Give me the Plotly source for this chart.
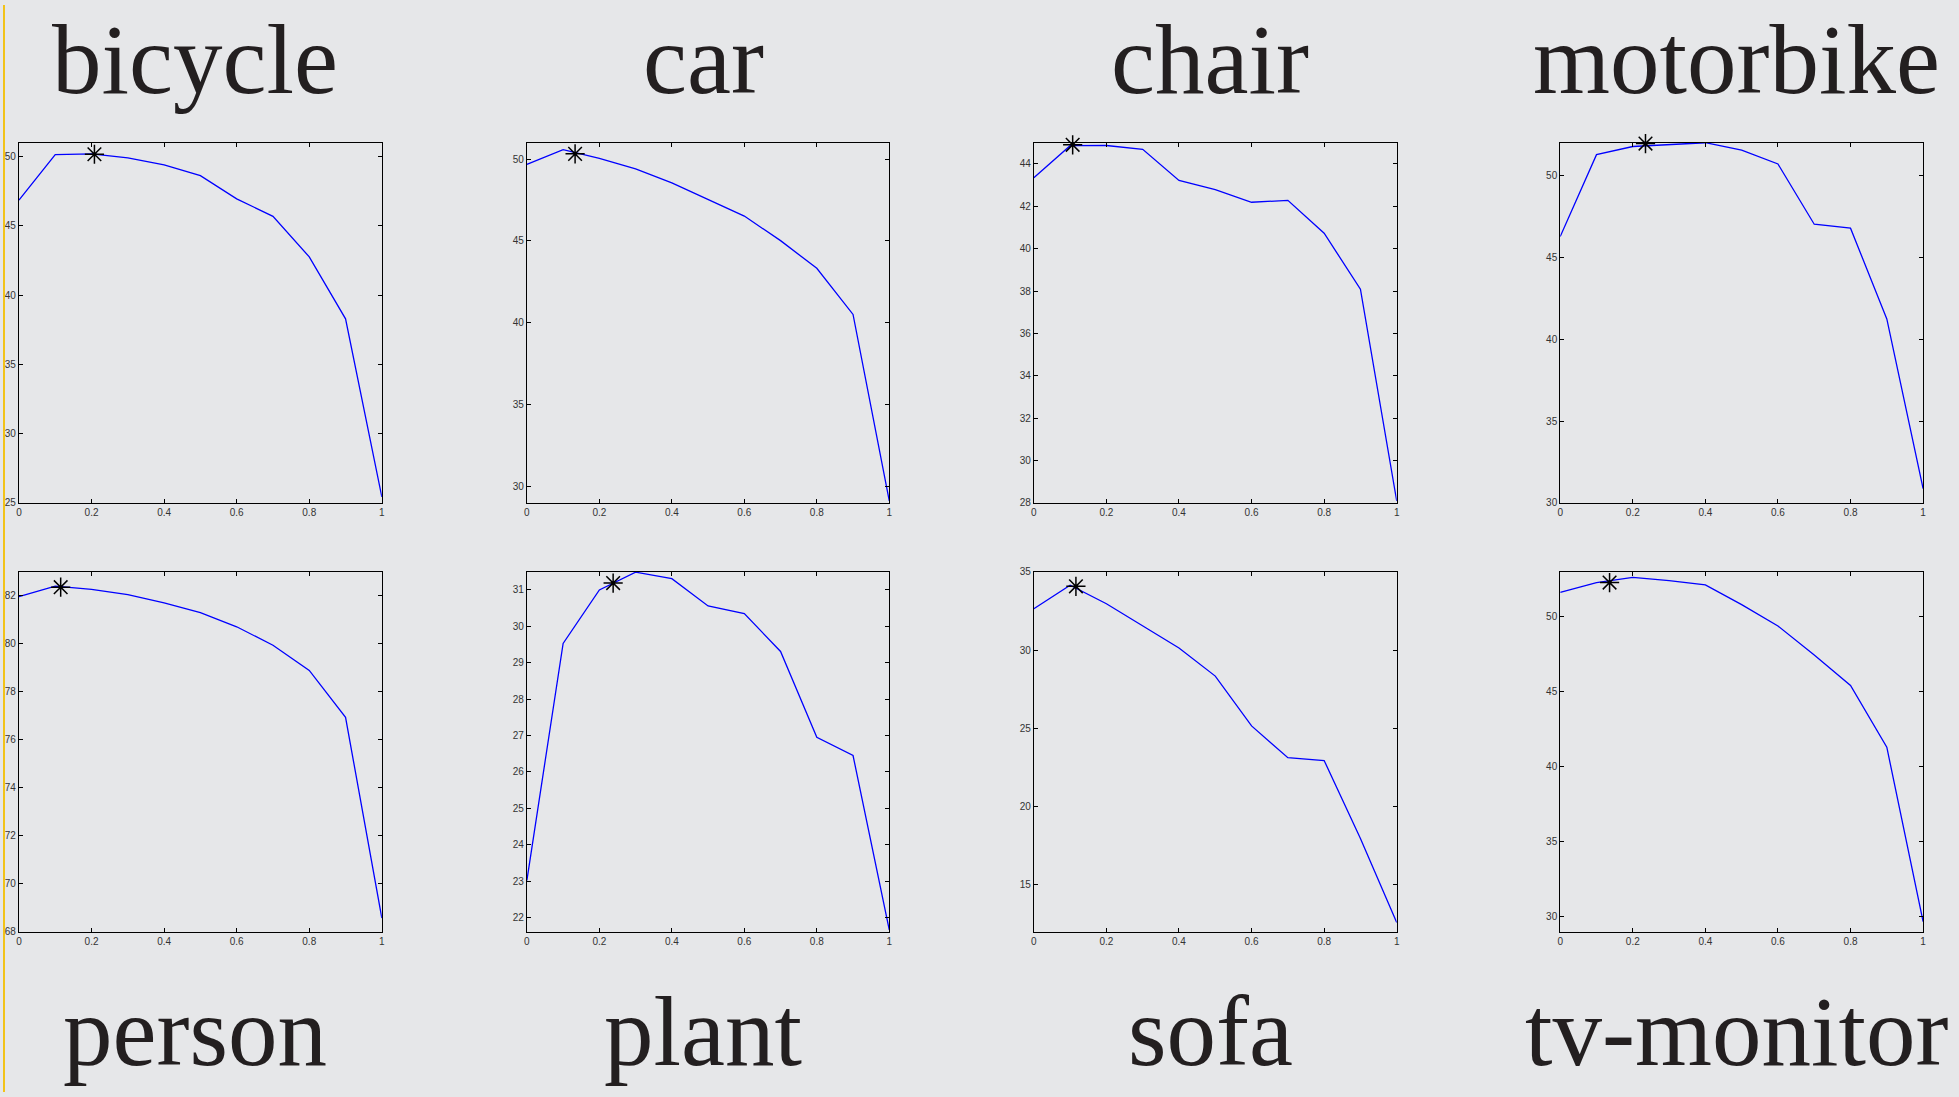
import plotly.graph_objects as go

W, H = 1959, 1097

categories = ["bicycle", "car", "chair", "motorbike", "person", "plant", "sofa", "tv-monitor"]
x_values = [0, 0.1, 0.2, 0.3, 0.4, 0.5, 0.6, 0.7, 0.8, 0.9, 1.0]

bicycle = [46.86, 50.14, 50.19, 49.9, 49.4, 48.62, 46.95, 45.69, 42.76, 38.29, 25.43]
car = [49.68, 50.58, 50.04, 49.4, 48.55, 47.56, 46.52, 45.02, 43.33, 40.51, 29.13]
chair = [43.35, 44.86, 44.87, 44.69, 43.22, 42.79, 42.19, 42.28, 40.73, 38.09, 28.09]
motorbike = [46.27, 51.27, 51.77, 51.87, 52.0, 51.55, 50.7, 47.02, 46.78, 41.24, 30.87]
person = [81.97, 82.4, 82.27, 82.05, 81.71, 81.3, 80.71, 79.94, 78.89, 76.94, 68.58]
plant = [23.02, 29.53, 31.0, 31.49, 31.31, 30.56, 30.35, 29.31, 26.95, 26.45, 21.66]
sofa = [32.64, 34.14, 32.96, 31.52, 30.13, 28.34, 25.16, 23.13, 22.95, 17.97, 12.6]
tv_monitor = [51.62, 52.28, 52.63, 52.41, 52.13, 50.81, 49.39, 47.45, 45.43, 41.31, 29.69]
series = [bicycle, car, chair, motorbike, person, plant, sofa, tv_monitor]

# best-point markers (x, y)
star_x = [0.208, 0.133, 0.107, 0.235, 0.115, 0.238, 0.116, 0.136]
star_y = [50.17, 50.32, 44.9, 51.95, 82.36, 31.19, 34.07, 52.28]

# y-axis ranges and tick steps
y_ranges = [[25, 51], [29, 51], [28, 45], [30, 52], [68, 83], [21.6, 31.5], [12, 35], [29, 53]]
y_dticks = [5, 5, 2, 5, 2, 1, 5, 5]
x_tickvals = [0, 0.2, 0.4, 0.6, 0.8, 1]
x_ticktext = ["0", "0.2", "0.4", "0.6", "0.8", "1"]

# layout in pixels
col_left = [16, 525.5, 1034, 1562]
col_right = [380, 889, 1398, 1926]
row_top = [139, 572]
row_bottom = [502.5, 935.5]
title_mid_y = [55, 1036]
title_dx = -5

BG = "#E6E7E9"
fig = go.Figure()
layout = dict(
    width=W, height=H,
    margin=dict(l=0, r=0, t=0, b=0),
    paper_bgcolor=BG, plot_bgcolor=BG,
    showlegend=False,
    annotations=[], shapes=[],
)

for i, name in enumerate(categories):
    r, c = divmod(i, 4)
    k = "" if i == 0 else str(i + 1)
    xa, ya = "x" + k, "y" + k
    fig.add_trace(go.Scatter(x=x_values, y=series[i], mode="lines",
                             line=dict(color="#0000FF", width=1.3),
                             xaxis=xa, yaxis=ya, hoverinfo="skip"))
    fig.add_trace(go.Scatter(x=[star_x[i]], y=[star_y[i]], mode="markers",
                             marker=dict(symbol="asterisk-open", size=16, color="black",
                                         line=dict(color="black", width=1.5)),
                             xaxis=xa, yaxis=ya, cliponaxis=False, hoverinfo="skip"))
    common = dict(showline=True, linecolor="black", linewidth=1, mirror="allticks",
                  ticks="inside", ticklen=4, tickcolor="black", showgrid=False,
                  zeroline=False, tickfont=dict(family="Liberation Sans", size=10, color="#333333"))
    layout["xaxis" + k] = dict(domain=[col_left[c] / W, col_right[c] / W], anchor=ya,
                               range=[0, 1], tickvals=x_tickvals, ticktext=x_ticktext, **common)
    layout["yaxis" + k] = dict(domain=[1 - row_bottom[r] / H, 1 - row_top[r] / H], anchor=xa,
                               range=y_ranges[i], dtick=y_dticks[i], tick0=0, **common)
    layout["annotations"].append(dict(
        text=name, x=((col_left[c] + col_right[c]) / 2 + title_dx) / W, y=1 - title_mid_y[r] / H,
        xref="paper", yref="paper", xanchor="center", yanchor="middle", showarrow=False,
        font=dict(family="Liberation Serif", size=99, color="#231F20")))

layout["shapes"].append(dict(type="rect", xref="paper", yref="paper", x0=0, x1=2 / W, y0=0, y1=1,
                             fillcolor="#F2C318", line=dict(width=0), layer="above"))

fig.update_layout(**layout)
fig.write_html("out.html", config={"displayModeBar": False},
               post_script="document.body.style.margin='0';document.body.style.overflow='hidden';")
